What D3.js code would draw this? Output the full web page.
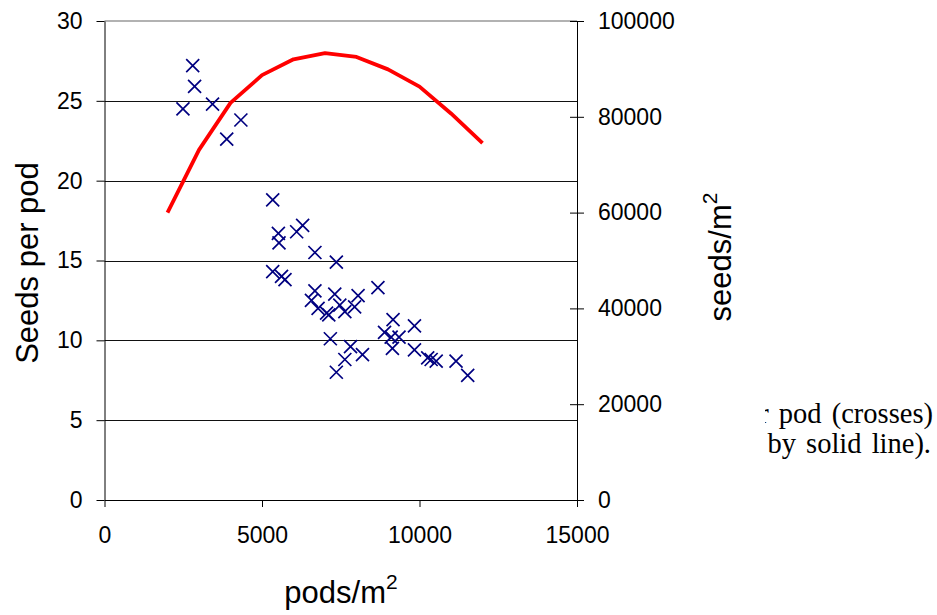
<!DOCTYPE html>
<html>
<head>
<meta charset="utf-8">
<script src="https://cdn.jsdelivr.net/npm/d3@7"></script>
<style>
  body { margin: 0; background: #fff; }
  svg { display: block; }
  .axis text { font-family: "Liberation Sans", Arial, sans-serif; font-size: 23px; fill: #000; }
  .axis path, .axis line { stroke: #000; }
  .title { font-family: "Liberation Sans", Arial, sans-serif; font-size: 31px; fill: #000; }
  .caption { font-family: "Liberation Serif", "Times New Roman", serif; font-size: 28.5px; fill: #000; word-spacing: 3px; }
</style>
</head>
<body>
<svg width="937" height="615"></svg>
<script>
// seeds per pod (crosses) against pod density
var podsX = [2800, 2860, 2490, 3430, 4330, 3880, 5340, 5520, 5540, 6100, 6290, 6680, 7360,
             5340, 5620, 5730, 6680, 6570, 7310, 6780, 7050, 7120, 7470, 7630, 7940, 8050, 8680,
             9160, 9840, 8890, 9100, 9350, 7170, 7810, 9140, 8190, 9840, 7630, 10260, 10370,
             10530, 11160, 11530, 7360];
var seedsPerPod = [27.2, 25.9, 24.5, 24.8, 23.8, 22.6, 18.8, 16.7, 16.1, 16.8, 17.2, 15.5, 14.9,
                   14.3, 14.0, 13.8, 13.1, 12.5, 12.9, 12.0, 11.7, 11.6, 12.2, 11.8, 12.1, 12.8, 13.3,
                   11.3, 10.9, 10.5, 10.2, 10.2, 10.1, 9.6, 9.5, 9.1, 9.4, 8.8, 8.9, 8.8,
                   8.7, 8.7, 7.8, 8.0];

// seeds/m2 (solid line)
var linePods = [2000, 3000, 4000, 5000, 6000, 7000, 8000, 9000, 10000, 11000, 12000];
var lineSeeds = [60000, 73100, 82900, 88700, 92000, 93300, 92500, 89900, 86300, 80700, 74500];

var xTicks = [0, 5000, 10000, 15000];
var leftTicks = [0, 5, 10, 15, 20, 25, 30];
var rightTicks = [0, 20000, 40000, 60000, 80000, 100000];

var svg = d3.select("svg"),
    plotLeft = 104.5, plotRight = 577, plotTop = 21, plotBottom = 500;

var x = d3.scaleLinear().domain([0, 15000]).range([plotLeft, plotRight]);
var y = d3.scaleLinear().domain([0, 30]).range([plotBottom, plotTop]);
var y2 = d3.scaleLinear().domain([0, 100000]).range([plotBottom, plotTop]);

// gridlines
svg.append("g")
  .selectAll("line")
  .data(leftTicks.filter(function(d) { return d > 0 && d < 30; }))
  .enter().append("line")
    .attr("x1", plotLeft).attr("x2", plotRight)
    .attr("y1", function(d) { return Math.round(y(d)) + 0.5; })
    .attr("y2", function(d) { return Math.round(y(d)) + 0.5; })
    .style("stroke", "#111")
    .style("stroke-width", 1);

// top border of the plot area
svg.append("line")
  .attr("x1", plotLeft).attr("x2", plotRight)
  .attr("y1", y(30)).attr("y2", y(30))
  .style("stroke", "#999")
  .style("stroke-width", 1.5);

// axes
svg.append("g")
  .attr("class", "axis")
  .attr("transform", "translate(0," + plotBottom + ")")
  .call(d3.axisBottom(x).tickValues(xTicks).tickSize(7).tickPadding(20).tickSizeOuter(0).tickFormat(d3.format("d")));

svg.append("g")
  .attr("class", "axis")
  .attr("transform", "translate(" + plotLeft + ",0)")
  .call(d3.axisLeft(y).tickValues(leftTicks).tickSize(8).tickPadding(14).tickSizeOuter(0));

var rAxis = svg.append("g")
  .attr("class", "axis")
  .attr("transform", "translate(" + plotRight + ",0)")
  .call(d3.axisRight(y2).tickValues(rightTicks).tickSize(7).tickPadding(14).tickSizeOuter(0).tickFormat(d3.format("d")));
// right-axis ticks cross the axis line
rAxis.selectAll(".tick line").attr("x1", -7);

// crosses
svg.append("g")
  .selectAll("path")
  .data(podsX.map(function(d, i) { return [d, seedsPerPod[i]]; }))
  .enter().append("path")
    .attr("transform", function(d) { return "translate(" + x(d[0]) + "," + y(d[1]) + ")"; })
    .attr("d", "M-6.5,-6.5L6.5,6.5M-6.5,6.5L6.5,-6.5")
    .style("stroke", "#000080")
    .style("stroke-width", 1.7)
    .style("fill", "none");

// seeds/m2 line
var line = d3.line()
  .x(function(d) { return x(d[0]); })
  .y(function(d) { return y2(d[1]); });

svg.append("path")
  .datum(linePods.map(function(d, i) { return [d, lineSeeds[i]]; }))
  .attr("d", line)
  .style("fill", "none")
  .style("stroke", "#ff0000")
  .style("stroke-width", 3.8)
  .style("stroke-linejoin", "round");

// axis titles
svg.append("text")
  .attr("class", "title")
  .attr("transform", "translate(38,263) rotate(-90)")
  .attr("text-anchor", "middle")
  .text("Seeds per pod");

var t2 = svg.append("text")
  .attr("class", "title")
  .attr("transform", "translate(731,257) rotate(-90)")
  .attr("text-anchor", "middle");
t2.append("tspan").text("seeds/m");
t2.append("tspan").attr("font-size", "21px").attr("dy", "-14").text("2");

var t3 = svg.append("text")
  .attr("class", "title")
  .attr("x", 341).attr("y", 603)
  .attr("text-anchor", "middle");
t3.append("tspan").text("pods/m");
t3.append("tspan").attr("font-size", "21px").attr("dy", "-14").text("2");

// caption text peeking out from behind the chart
svg.append("clipPath").attr("id", "capclip")
  .append("rect").attr("x", 765).attr("y", 380).attr("width", 172).attr("height", 100);

var cap = svg.append("g").attr("clip-path", "url(#capclip)");
cap.append("text").attr("class", "caption")
  .attr("x", 933).attr("y", 423).attr("text-anchor", "end")
  .text("per pod (crosses)");
cap.append("text").attr("class", "caption")
  .attr("x", 931).attr("y", 453).attr("text-anchor", "end")
  .text("by solid line).");
</script>
</body>
</html>
